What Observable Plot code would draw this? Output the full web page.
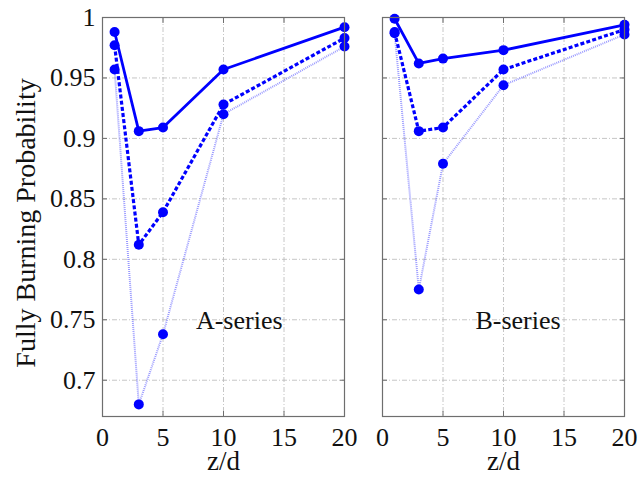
<!DOCTYPE html>
<html><head><meta charset="utf-8">
<script src="https://cdn.jsdelivr.net/npm/d3@7"></script>
<script src="https://cdn.jsdelivr.net/npm/@observablehq/plot@0.6"></script>
<style>
body{margin:0;background:#fff}
</style>
</head><body><div id="chart"></div>
<script>
const zd = [1, 3, 5, 10, 20];
const seriesNames = ["A-series", "B-series"];
const aSolid  = [0.988, 0.906, 0.909, 0.957, 0.992];
const aDashed = [0.977, 0.812, 0.839, 0.928, 0.983];
const aDotted = [0.957, 0.680, 0.738, 0.920, 0.976];
const bSolid  = [0.999, 0.962, 0.966, 0.973, 0.994];
const bDashed = [0.988, 0.906, 0.909, 0.957, 0.990];
const bDotted = [0.987, 0.775, 0.879, 0.944, 0.986];
const xTicks = [0, 5, 10, 15, 20];
const yTicks = [0.7, 0.75, 0.8, 0.85, 0.9, 0.95, 1];
const labelX = [11.3, 11.2];
const labelY = [0.749, 0.749];

const rows = [];
function add(series, style, vals) { zd.forEach((x, i) => rows.push({series, style, x, y: vals[i]})); }
add("A-series", "dotted", aDotted); add("A-series", "dashed", aDashed); add("A-series", "solid", aSolid);
add("B-series", "dotted", bDotted); add("B-series", "dashed", bDashed); add("B-series", "solid", bSolid);
const labels = seriesNames.map((s, i) => ({series: s, x: labelX[i], y: labelY[i]}));

const FONT = "Liberation Serif";
const blue = "#0000ff";
const frameColor = "#6e6e6e";
const gridOpts = {stroke: "#b8b8b8", strokeOpacity: 1, strokeWidth: 0.8, strokeDasharray: "5,2,1,2"};
const tickOpts = {fill: "none", label: null, stroke: frameColor, strokeWidth: 1, tickSize: 5, facetAnchor: null};

const chart = Plot.plot({
  width: 640, height: 481,
  marginLeft: 101, marginRight: 15, marginTop: 17, marginBottom: 65,
  style: {fontFamily: FONT, fontSize: "26px", background: "#fff", color: "#111"},
  fx: {domain: seriesNames, padding: 0.135, axis: null, label: null},
  x: {domain: [0, 20]},
  y: {domain: [0.67, 1]},
  marks: [
    Plot.gridX(xTicks, gridOpts),
    Plot.gridY(yTicks, gridOpts),
    Plot.line(rows.filter(d => d.style === "dotted"), {x: "x", y: "y", fx: "series", stroke: blue, strokeOpacity: 0.4, strokeWidth: 2, strokeDasharray: "1,1", strokeLinecap: "butt"}),
    Plot.line(rows.filter(d => d.style === "dashed"), {x: "x", y: "y", fx: "series", stroke: blue, strokeWidth: 3.2, strokeDasharray: "4,2.2", strokeLinecap: "butt"}),
    Plot.line(rows.filter(d => d.style === "solid"), {x: "x", y: "y", fx: "series", stroke: blue, strokeWidth: 2.8}),
    Plot.dot(rows, {x: "x", y: "y", fx: "series", r: 5, fill: blue, stroke: "none"}),
    Plot.frame({stroke: frameColor, strokeWidth: 1.2}),
    Plot.axisY(yTicks, {...tickOpts, anchor: "left", dx: 5}),
    Plot.axisY(yTicks, {...tickOpts, anchor: "right", dx: -5}),
    Plot.axisX(xTicks, {...tickOpts, anchor: "bottom", dy: -5}),
    Plot.axisX(xTicks, {...tickOpts, anchor: "top", dy: 5}),
    Plot.axisY(yTicks, {anchor: "left", tickSize: 0, tickPadding: 7, label: null, fill: "#111", fontSize: 26, fontFamily: FONT, fontVariant: "normal", tickFormat: d => `${+d.toFixed(2)}`}),
    Plot.axisX(xTicks, {anchor: "bottom", tickSize: 0, tickPadding: 11, label: null, fill: "#111", fontSize: 26, fontFamily: FONT, fontVariant: "normal", facetAnchor: null}),
    Plot.text(labels, {x: "x", y: "y", fx: "series", text: "series", fontSize: 26, fontFamily: FONT, fill: "#111"}),
    Plot.text(["z/d"], {frameAnchor: "bottom", dy: 53, fontSize: 27, fontFamily: FONT, fill: "#111"}),
    Plot.text(["Fully Burning Probability"], {frameAnchor: "left", rotate: -90, dx: -76, dy: 6, fontSize: 28, fontFamily: FONT, textAnchor: "middle", lineAnchor: "middle", fill: "#111", facetAnchor: "left"})
  ]
});
document.getElementById("chart").appendChild(chart);
</script>
</body></html>
